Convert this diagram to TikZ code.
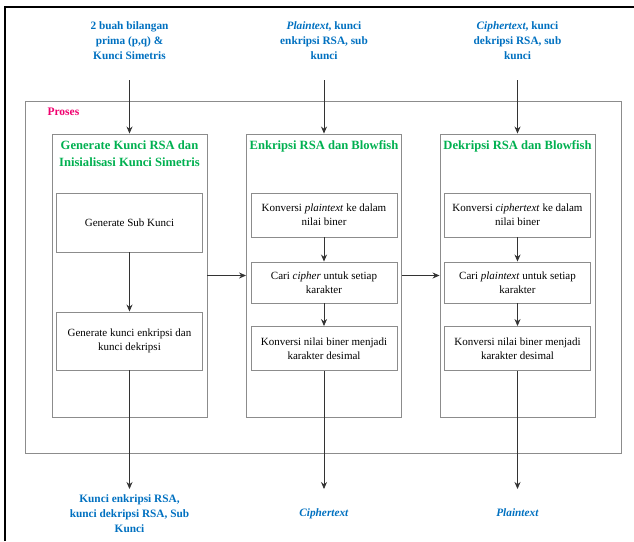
\documentclass[tikz,border=0pt]{standalone}
\usepackage{fontspec}
\setmainfont{Liberation Serif}
\usetikzlibrary{arrows.meta}
\definecolor{labelblue}{RGB}{0,112,192}
\definecolor{titlegreen}{RGB}{0,176,80}
\definecolor{prosespink}{RGB}{240,0,110}
\definecolor{boxgray}{RGB}{140,140,140}

\begin{document}
\begin{tikzpicture}[x=1pt, y=-1pt,
    >={Stealth[length=7pt,width=6pt]},
    kolom/.style={draw=boxgray, line width=0.9pt, minimum width=155pt, minimum height=283pt},
    langkah/.style={draw=boxgray, line width=0.9pt, minimum width=146pt, minimum height=44pt,
        align=center, inner sep=0pt, font=\fontsize{11}{14}\selectfont},
    judul/.style={text=titlegreen, align=center, font=\bfseries\fontsize{12.6}{17}\selectfont},
    masukan/.style={text=labelblue, align=center, font=\bfseries\fontsize{11.3}{15}\selectfont},
    panah/.style={->, draw=black!80, line width=0.8pt}]

    \useasboundingbox (0,0) rectangle (634,541);
    \draw[line width=1.5pt] (5,541) -- (5,7) -- (634,7);

    % proses
    \node[draw=boxgray, line width=0.9pt, minimum width=596pt, minimum height=352pt] (proses) at (323,277) {};
    \node[anchor=west, text=prosespink, font=\bfseries\fontsize{11.5}{13}\selectfont] (lblproses) at (44,112) {Proses};

    % kolom
    \node[kolom] (kol1) at (129.5,275.5) {};
    \node[kolom] (kol2) at (324,275.5) {};
    \node[kolom] (kol3) at (517.5,275.5) {};

    \node[judul] (jdl1) at (129.5,154) {Generate Kunci RSA dan\\Inisialisasi Kunci Simetris};
    \node[judul] (jdl2) at (324,146) {Enkripsi RSA dan Blowfish};
    \node[judul] (jdl3) at (517.5,146) {Dekripsi RSA dan Blowfish};

    % langkah
    \node[langkah, minimum height=59pt] (k1a) at (129.5,222.5) {Generate Sub Kunci};
    \node[langkah, minimum height=58pt] (k1b) at (129.5,341) {Generate kunci enkripsi dan\\kunci dekripsi};

    \node[langkah] (k2a) at (324,215) {Konversi \textit{plaintext} ke dalam\\nilai biner};
    \node[langkah, minimum height=41pt] (k2b) at (324,282.5) {Cari \textit{cipher} untuk setiap\\karakter};
    \node[langkah] (k2c) at (324,348.5) {Konversi nilai biner menjadi\\karakter desimal};

    \node[langkah] (k3a) at (517.5,215) {Konversi \textit{ciphertext} ke dalam\\nilai biner};
    \node[langkah, minimum height=41pt] (k3b) at (517.5,282.5) {Cari \textit{plaintext} untuk setiap\\karakter};
    \node[langkah] (k3c) at (517.5,348.5) {Konversi nilai biner menjadi\\karakter desimal};

    % masukan & keluaran
    \node[masukan, anchor=south] (in1) at (129.5,63) {2 buah bilangan\\prima (p,q) \&\\Kunci Simetris};
    \node[masukan, anchor=south] (in2) at (324,63) {\textit{Plaintext}, kunci\\enkripsi RSA, sub\\kunci};
    \node[masukan, anchor=south] (in3) at (517.5,63) {\textit{Ciphertext}, kunci\\dekripsi RSA, sub\\kunci};

    \node[masukan, anchor=north] (out1) at (129.5,491) {Kunci enkripsi RSA,\\kunci dekripsi RSA, Sub\\Kunci};
    \node[masukan, anchor=north] (out2) at (324,505) {\textit{Ciphertext}};
    \node[masukan, anchor=north] (out3) at (517.5,505) {\textit{Plaintext}};

    \foreach \i in {1,2,3}
    \draw[panah, shorten <=17pt] (in\i.south) -- (kol\i.north);

    \draw[panah] (k1a) -- (k1b);
    \foreach \a/\b in {k2a/k2b, k2b/k2c, k3a/k3b, k3b/k3c}
    \draw[panah] (\a) -- (\b);

    \draw[panah] (kol1) -- (kol2);
    \draw[panah] (kol2) -- (kol3);

    \draw[panah, shorten >=2pt] (k1b.south) -- (out1.north);
    \draw[panah, shorten >=16pt] (k2c.south) -- (out2.north);
    \draw[panah, shorten >=16pt] (k3c.south) -- (out3.north);
    %  \draw[panah] (k1b) -- (kol1.south);
\end{tikzpicture}
\end{document}
